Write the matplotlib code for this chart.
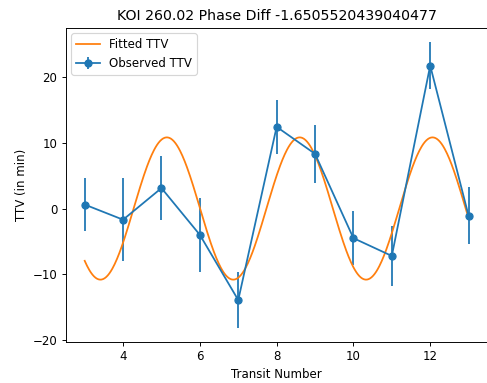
import numpy as np
import matplotlib
matplotlib.use("Agg")
import matplotlib.pyplot as plt

# observed transit timing variations (minutes)
transit_number = [3, 4, 5, 6, 7, 8, 9, 10, 11, 12, 13]
observed_ttv = [0.6, -1.7, 3.1, -4.0, -13.9, 12.4, 8.3, -4.5, -7.2, 21.7, -1.1]
observed_err = [4.0, 6.3, 4.8, 5.6, 4.2, 4.1, 4.4, 4.1, 4.6, 3.6, 4.35]

# sinusoidal fit parameters
fit_amplitude = 10.8
fit_period = 3.46
fit_phase = -1.48

title = "KOI 260.02 Phase Diff -1.6505520439040477"


def fitted_ttv(n):
    return fit_amplitude * np.sin(2 * np.pi * n / fit_period + fit_phase)


def main():
    dpi = 85
    fig, ax = plt.subplots(figsize=(487 / dpi, 383 / dpi), dpi=dpi)

    ax.errorbar(transit_number, observed_ttv, yerr=observed_err, fmt='o-', label='Observed TTV')

    n_fine = np.linspace(min(transit_number), max(transit_number), 500)
    ax.plot(n_fine, fitted_ttv(n_fine), label='Fitted TTV')

    ax.set_xlabel('Transit Number')
    ax.set_ylabel('TTV (in min)')
    ax.set_title(title)
    ax.legend(loc='upper left')

    # right spine falls just outside the picture, as in the original crop
    fig.subplots_adjust(left=0.1345, right=1.0016, top=0.928, bottom=0.107)
    fig.savefig('out.png', dpi=dpi)


if __name__ == "__main__":
    main()
